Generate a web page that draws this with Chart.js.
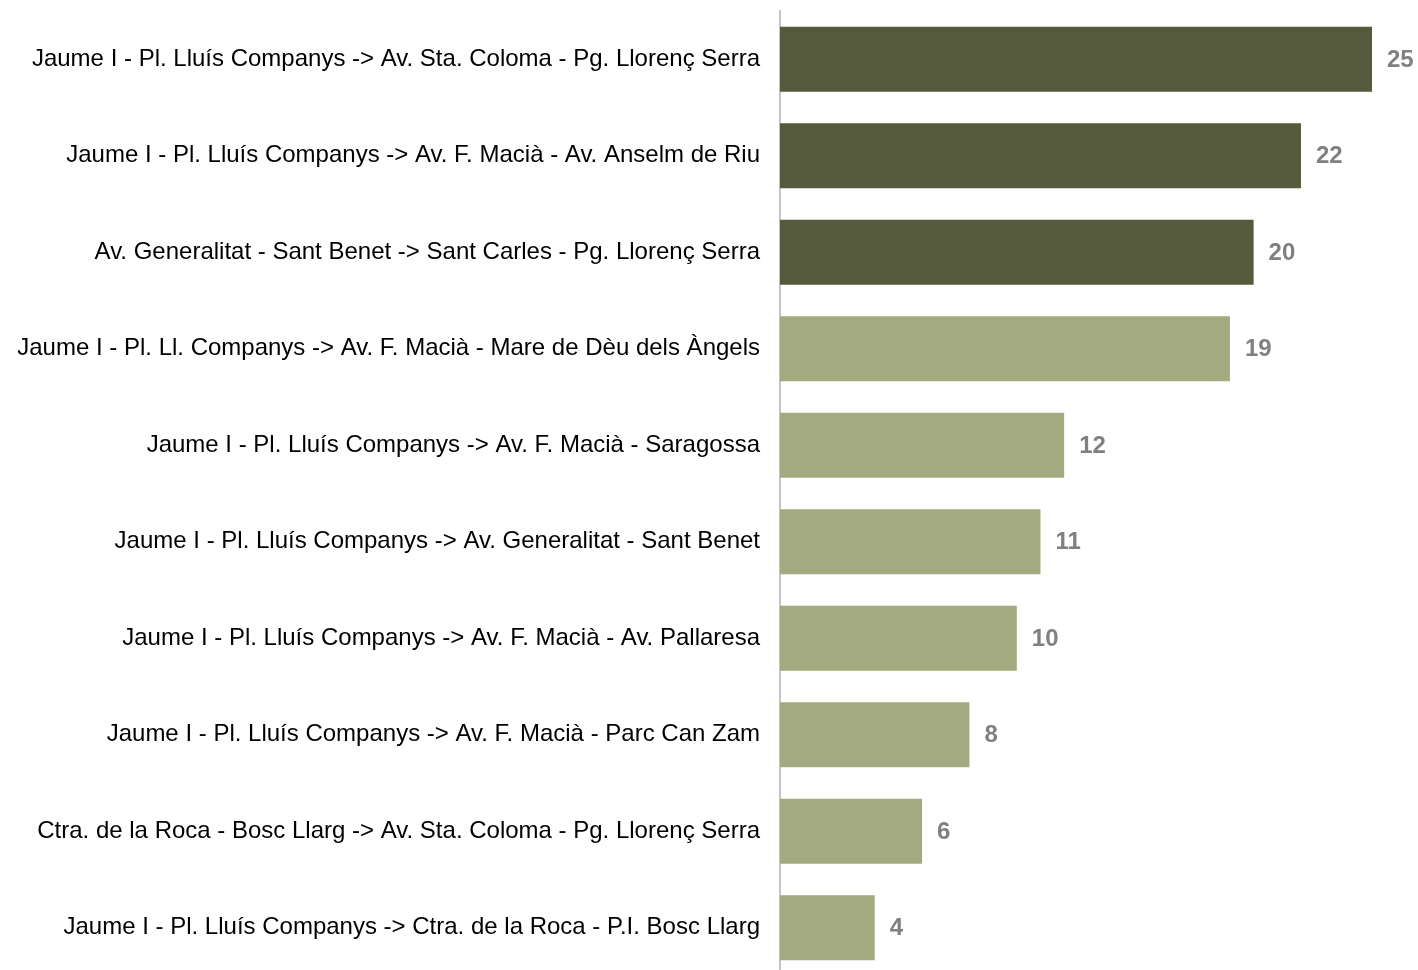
<!DOCTYPE html>
<html>
<head>
<meta charset="utf-8">
<script src="https://cdn.jsdelivr.net/npm/chart.js@4"></script>
<style>
    html, body { margin: 0; padding: 0; background: #ffffff; overflow: hidden; }
    #wrap { width: 1418px; height: 980px; position: relative; }
</style>
</head>
<body>
<div id="wrap"><canvas id="chart"></canvas></div>
<script>
// dades
const routes = [
    "Jaume I - Pl. Lluís Companys -> Av. Sta. Coloma - Pg. Llorenç Serra",
    "Jaume I - Pl. Lluís Companys -> Av. F. Macià - Av. Anselm de Riu",
    "Av. Generalitat - Sant Benet -> Sant Carles - Pg. Llorenç Serra",
    "Jaume I - Pl. Ll. Companys -> Av. F. Macià - Mare de Dèu dels Àngels",
    "Jaume I - Pl. Lluís Companys -> Av. F. Macià - Saragossa",
    "Jaume I - Pl. Lluís Companys -> Av. Generalitat - Sant Benet",
    "Jaume I - Pl. Lluís Companys -> Av. F. Macià - Av. Pallaresa",
    "Jaume I - Pl. Lluís Companys -> Av. F. Macià - Parc Can Zam",
    "Ctra. de la Roca - Bosc Llarg -> Av. Sta. Coloma - Pg. Llorenç Serra",
    "Jaume I - Pl. Lluís Companys -> Ctra. de la Roca - P.I. Bosc Llarg",
]
const counts = [25, 22, 20, 19, 12, 11, 10, 8, 6, 4]
const topN = 3   // les tres primeres en color fosc

const FONT = "'Liberation Sans', Arial, sans-serif"

// etiquetes de valor al final de cada barra
const valueLabels = {
    id: "valueLabels",
    afterDatasetsDraw(chart) {
        const ctx = chart.ctx
        const meta = chart.getDatasetMeta(0)
        ctx.save()
        ctx.font = "bold 24px " + FONT
        ctx.fillStyle = "#808080"
        ctx.textAlign = "left"
        ctx.textBaseline = "middle"
        meta.data.forEach((bar, i) => {
            ctx.fillText(String(counts[i]), bar.x + 15, bar.y + 1)
        })
        ctx.restore()
    },
}

function main() {
    new Chart(document.getElementById("chart"), {
        type: "bar",
        data: {
            labels: routes,
            datasets: [
                {
                    data: counts,
                    backgroundColor: counts.map((v, i) => i < topN ? "#555a3c" : "#a3aa7f"),
                    borderWidth: 0,
                    categoryPercentage: 1,
                    barPercentage: 0.674,
                },
            ],
        },
        options: {
            indexAxis: "y",
            responsive: true,
            maintainAspectRatio: false,
            animation: false,
            layout: {
                padding: { top: 11, right: 46, bottom: 4, left: 0 },
            },
            scales: {
                x: {
                    display: false,
                    min: 0,
                    max: 25,
                },
                y: {
                    grid: { display: false, drawTicks: false },
                    border: { color: "#c4c4c4", width: 2 },
                    ticks: {
                        color: "#000000",
                        padding: 20,
                        font: { family: FONT, size: 24 },
                    },
                    afterFit(axis) {
                        axis.width = 780
                        axis.paddingTop = 0     // niente spazio extra sopra/sotto
                        axis.paddingBottom = 0
                    },
                },
            },
            plugins: {
                legend: { display: false },
                tooltip: { enabled: false },
            },
        },
        plugins: [valueLabels],
    })
}

document.addEventListener("DOMContentLoaded", main)
</script>
</body>
</html>
